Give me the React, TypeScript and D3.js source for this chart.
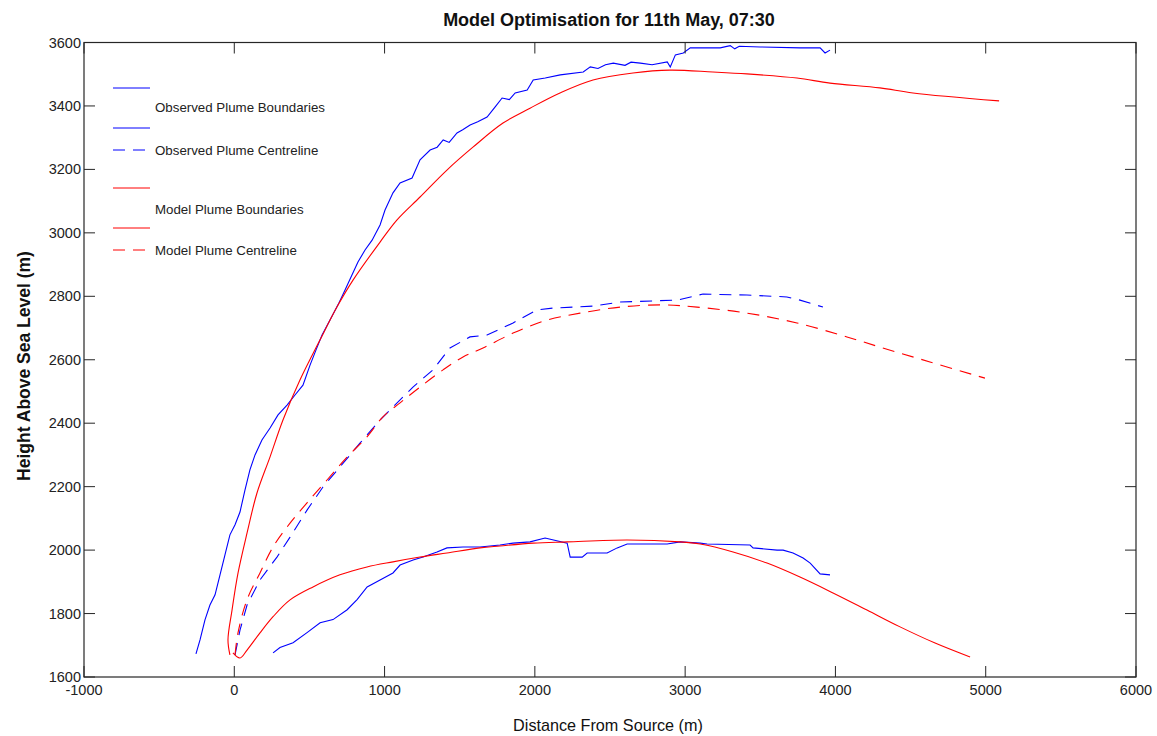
import React from "react";
import * as d3 from "d3";

const titleText = "Model Optimisation for 11th May, 07:30";
const xLabel = "Distance From Source (m)";
const yLabel = "Height Above Sea Level (m)";
const xTicks = [-1000, 0, 1000, 2000, 3000, 4000, 5000, 6000];
const yTicks = [1600, 1800, 2000, 2200, 2400, 2600, 2800, 3000, 3200, 3400, 3600];

const obsUpperX = [-255, -228, -195, -162, -128, -95, -62, -29, 5, 38, 71, 104, 138, 184, 238, 291, 351, 404, 457, 504, 544, 584, 637, 690, 737, 783, 823, 870, 917, 970, 1003, 1056, 1103, 1183, 1236, 1303, 1350, 1390, 1430, 1482, 1520, 1569, 1620, 1682, 1736, 1782, 1830, 1869, 1949, 1989, 2069, 2169, 2322, 2369, 2420, 2470, 2522, 2600, 2640, 2702, 2780, 2881, 2901, 2935, 2988, 3034, 3233, 3300, 3330, 3360, 3499, 3765, 3898, 3931, 3964];
const obsUpperY = [1673, 1717, 1780, 1827, 1859, 1922, 1985, 2048, 2080, 2120, 2189, 2253, 2300, 2347, 2385, 2426, 2457, 2489, 2520, 2583, 2631, 2678, 2725, 2773, 2820, 2867, 2908, 2946, 2977, 3025, 3072, 3126, 3157, 3173, 3230, 3261, 3270, 3293, 3285, 3315, 3325, 3340, 3350, 3365, 3397, 3425, 3420, 3441, 3450, 3482, 3488, 3498, 3507, 3523, 3518, 3530, 3535, 3528, 3538, 3535, 3530, 3539, 3523, 3561, 3567, 3583, 3583, 3590, 3580, 3588, 3586, 3583, 3583, 3567, 3576];

const obsCentreX = [5, 38, 85, 171, 284, 371, 484, 590, 703, 836, 970, 1056, 1189, 1322, 1435, 1568, 1682, 1855, 2014, 2120, 2387, 2566, 2946, 3119, 3411, 3677, 3764, 3917];
const obsCentreY = [1670, 1748, 1827, 1906, 1978, 2041, 2126, 2199, 2262, 2337, 2410, 2451, 2514, 2568, 2637, 2672, 2678, 2716, 2757, 2763, 2769, 2782, 2788, 2807, 2804, 2798, 2788, 2766];

const obsLowerX = [258, 304, 391, 484, 571, 657, 751, 817, 884, 970, 1056, 1103, 1190, 1256, 1349, 1415, 1522, 1635, 1768, 1855, 1968, 2068, 2215, 2235, 2315, 2348, 2481, 2548, 2614, 2880, 2967, 3100, 3146, 3432, 3452, 3612, 3652, 3718, 3785, 3832, 3898, 3964];
const obsLowerY = [1676, 1693, 1708, 1740, 1771, 1781, 1812, 1844, 1884, 1906, 1928, 1953, 1969, 1978, 1994, 2007, 2010, 2010, 2016, 2022, 2026, 2038, 2022, 1978, 1978, 1991, 1991, 2007, 2019, 2019, 2026, 2022, 2019, 2016, 2007, 2000, 2000, 1991, 1975, 1959, 1925, 1922];

const modUpperX = [-29, -42, -15, 25, 85, 151, 238, 324, 437, 570, 683, 790, 970, 1083, 1236, 1415, 1588, 1788, 1968, 2167, 2387, 2653, 2899, 3185, 3411, 3744, 3964, 4296, 4516, 5089];
const modUpperY = [1670, 1717, 1811, 1928, 2054, 2180, 2294, 2410, 2536, 2662, 2766, 2851, 2971, 3041, 3113, 3198, 3270, 3346, 3393, 3441, 3482, 3504, 3513, 3507, 3501, 3488, 3472, 3457, 3441, 3416];

const modLowerX = [-9, 38, 85, 171, 258, 371, 524, 703, 883, 1056, 1236, 1415, 1635, 1768, 1988, 2215, 2614, 2967, 3100, 3319, 3545, 3764, 3984, 4210, 4430, 4663, 4896];
const modLowerY = [1676, 1660, 1685, 1739, 1790, 1843, 1884, 1922, 1947, 1963, 1978, 1991, 2007, 2013, 2022, 2026, 2032, 2026, 2019, 1994, 1959, 1915, 1865, 1811, 1758, 1707, 1663];

const modCentreX = [5, 25, 85, 171, 258, 371, 484, 617, 750, 883, 989, 1103, 1236, 1389, 1522, 1655, 1855, 2081, 2301, 2567, 2853, 3079, 3412, 3744, 4077, 4296, 4629, 4995];
const modCentreY = [1670, 1740, 1844, 1928, 2010, 2085, 2149, 2221, 2293, 2357, 2420, 2464, 2514, 2568, 2609, 2637, 2684, 2725, 2747, 2766, 2773, 2766, 2747, 2716, 2672, 2640, 2593, 2542];

const legendLabels = ["Observed Plume Boundaries", "Observed Plume Centreline", "Model Plume Boundaries", "Model Plume Centreline"];

const BLUE = "#0000ff";
const RED = "#ff0000";
const DASH = "12,8";
const AX = "#262626";
const FONT = "'Liberation Sans', Arial, sans-serif";

const L = 84, R = 1136, T = 42.5, B = 677;
const x = d3.scaleLinear().domain([-1000, 6000]).range([L, R]);
const y = d3.scaleLinear().domain([1600, 3600]).range([B, T]);

const zip = (xs: number[], ys: number[]) => xs.map((v, i) => [v, ys[i]] as [number, number]);
const lineStep = d3.line<[number, number]>().x(d => x(d[0])).y(d => y(d[1]));
const lineSmooth = d3.line<[number, number]>().x(d => x(d[0])).y(d => y(d[1])).curve(d3.curveCatmullRom.alpha(0.5));

const series = [
  { data: zip(obsUpperX, obsUpperY), color: BLUE, dash: undefined, smooth: false },
  { data: zip(obsLowerX, obsLowerY), color: BLUE, dash: undefined, smooth: false },
  { data: zip(obsCentreX, obsCentreY), color: BLUE, dash: DASH, smooth: false },
  { data: zip(modUpperX, modUpperY), color: RED, dash: undefined, smooth: true },
  { data: zip(modLowerX, modLowerY), color: RED, dash: undefined, smooth: true },
  { data: zip(modCentreX, modCentreY), color: RED, dash: DASH, smooth: true },
];

export default function App() {
  const tk = 11;
  return (
    <svg width={1157} height={736} style={{ position: "absolute", left: 0, top: 0, background: "#fff" }} fontFamily={FONT}>
      <rect x={0} y={0} width={1157} height={736} fill="#fff" />
      <text x={609} y={26} textAnchor="middle" fontSize={18} fontWeight="bold" fill="#111">{titleText}</text>
      {series.map((s, i) => (
        <path key={i} d={(s.smooth ? lineSmooth(s.data) : lineStep(s.data)) || ""} fill="none" stroke={s.color} strokeWidth={1.1} strokeDasharray={s.dash} />
      ))}
      <rect x={L} y={T} width={R - L} height={B - T} fill="none" stroke={AX} strokeWidth={1.2} />
      {xTicks.map(t => (
        <g key={"x" + t}>
          <line x1={x(t)} x2={x(t)} y1={B} y2={B - tk} stroke={AX} />
          <line x1={x(t)} x2={x(t)} y1={T} y2={T + tk} stroke={AX} />
          <text x={x(t)} y={695} textAnchor="middle" fontSize={14.5} fill="#222">{t}</text>
        </g>
      ))}
      {yTicks.map(t => (
        <g key={"y" + t}>
          <line x1={L} x2={L + tk} y1={y(t)} y2={y(t)} stroke={AX} />
          <line x1={R} x2={R - tk} y1={y(t)} y2={y(t)} stroke={AX} />
          <text x={81} y={y(t) + 5} textAnchor="end" fontSize={14.5} fill="#222">{t}</text>
        </g>
      ))}
      <text x={608} y={731} textAnchor="middle" fontSize={16.2} fill="#111">{xLabel}</text>
      <text transform="translate(30,366) rotate(-90)" textAnchor="middle" fontSize={17.5} fontWeight="bold" fill="#111">{yLabel}</text>
      <g>
        <line x1={113} x2={150} y1={88} y2={88} stroke={BLUE} />
        <text x={155} y={112} fontSize={13.3} fill="#222">{legendLabels[0]}</text>
        <line x1={113} x2={150} y1={128} y2={128} stroke={BLUE} />
        <line x1={113} x2={150} y1={150} y2={150} stroke={BLUE} strokeDasharray={DASH} />
        <text x={155} y={155} fontSize={13.3} fill="#222">{legendLabels[1]}</text>
        <line x1={113} x2={150} y1={188} y2={188} stroke={RED} />
        <text x={155} y={214} fontSize={13.3} fill="#222">{legendLabels[2]}</text>
        <line x1={113} x2={150} y1={228} y2={228} stroke={RED} />
        <line x1={113} x2={150} y1={250} y2={250} stroke={RED} strokeDasharray={DASH} />
        <text x={155} y={255} fontSize={13.3} fill="#222">{legendLabels[3]}</text>
      </g>
    </svg>
  );
}
